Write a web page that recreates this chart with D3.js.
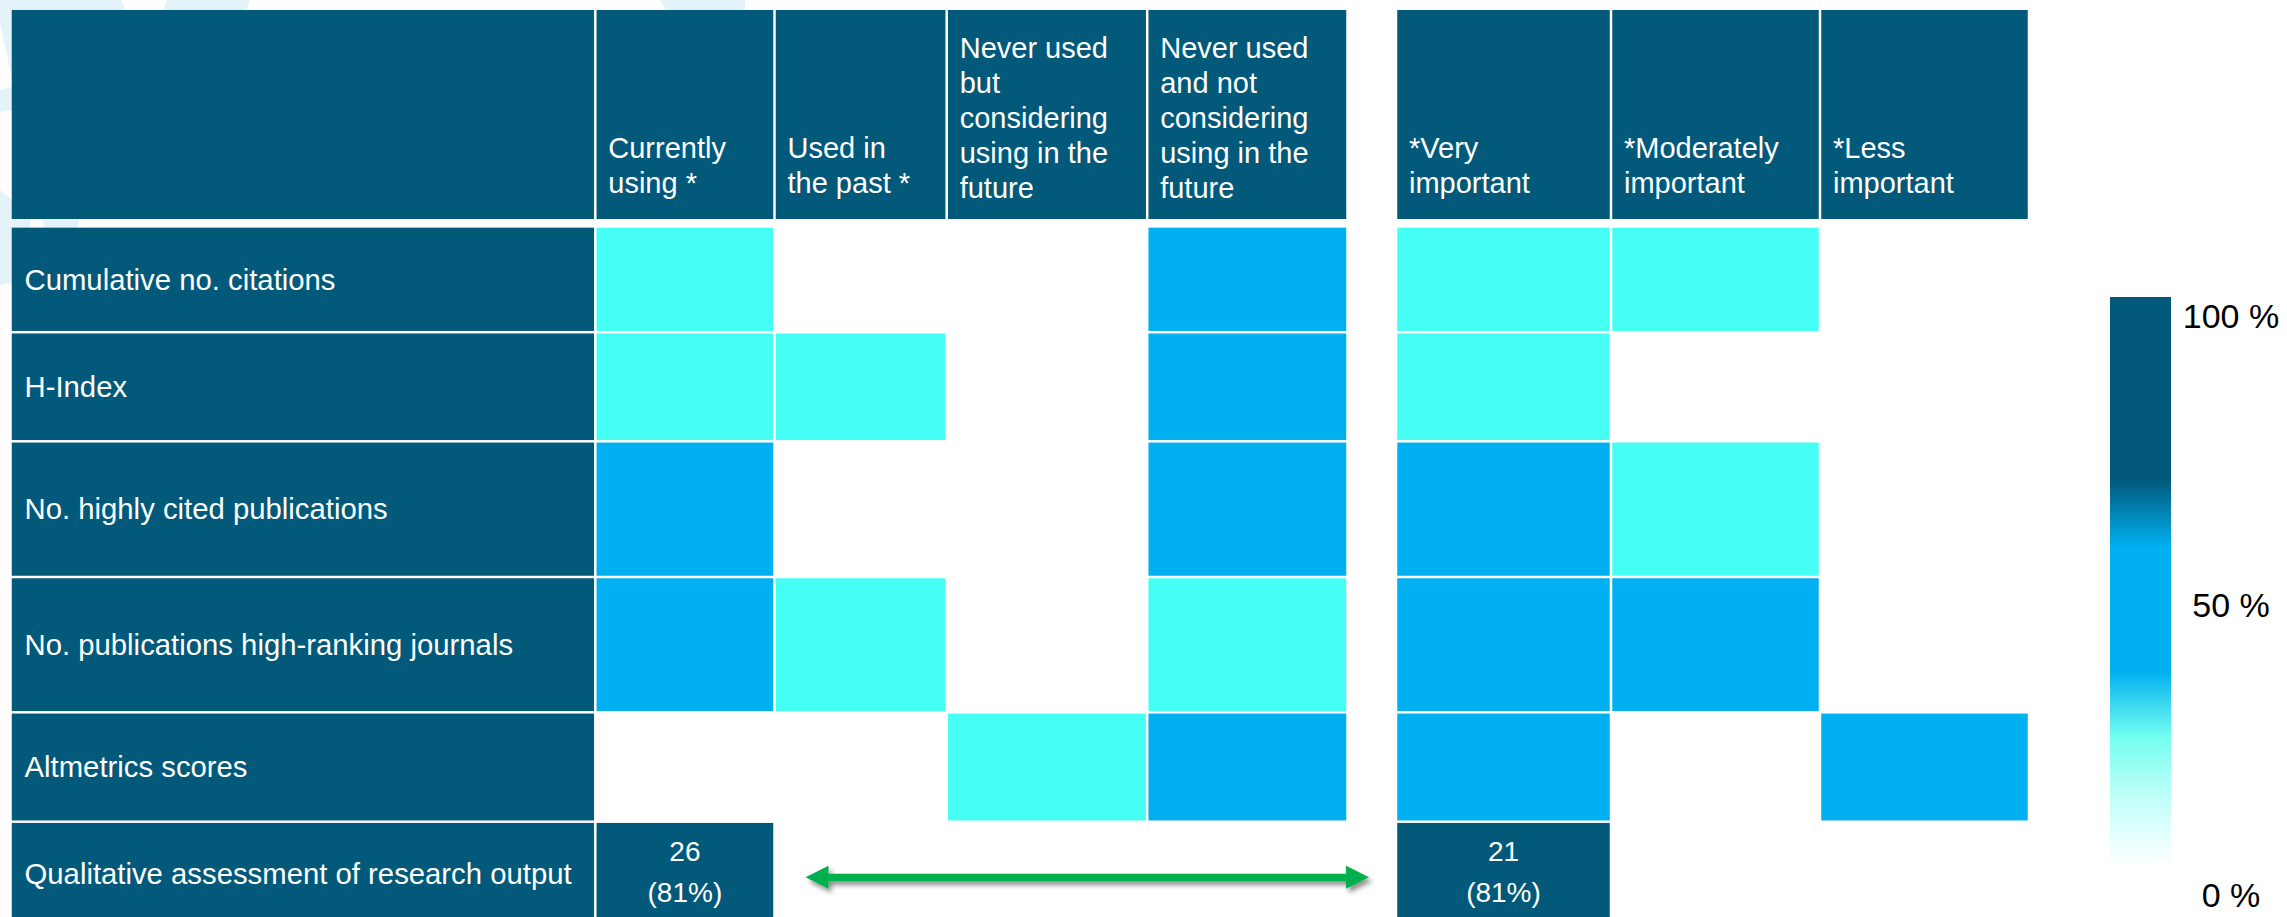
<!DOCTYPE html>
<html>
<head>
<meta charset="utf-8">
<script src="https://cdn.jsdelivr.net/npm/d3@7"></script>
<style>
  html, body { margin: 0; padding: 0; background: #ffffff; overflow: hidden; }
  svg { display: block; font-family: "Liberation Sans", Arial, Helvetica, sans-serif; }
</style>
</head>
<body>
<svg id="chart" width="2287" height="917"></svg>
<script>
// ---- Data -----------------------------------------------------------------
// Research metrics (table rows)
const metrics = [
  "Cumulative no. citations",
  "H-Index",
  "No. highly cited publications",
  "No. publications high-ranking journals",
  "Altmetrics scores",
  "Qualitative assessment of research output"
];

// Usage columns, header text split into its printed lines
const usageColumns = [
  ["Currently", "using *"],
  ["Used in", "the past *"],
  ["Never used", "but", "considering", "using in the", "future"],
  ["Never used", "and not", "considering", "using in the", "future"]
];

// Importance columns
const importanceColumns = [
  ["*Very", "important"],
  ["*Moderately", "important"],
  ["*Less", "important"]
];

// Share of respondents (%) per metric, usage columns
const usageValues = [
  [34, 9, 6, 50],
  [28, 22, 9, 41],
  [44, 6, 9, 41],
  [50, 22, 6, 22],
  [3, 3, 31, 63],
  [81, 6, 6, 6]
];

// Share of respondents (%) per metric, importance columns
const importanceValues = [
  [38, 35, 12],
  [35, 15, 12],
  [46, 31, 8],
  [50, 42, 4],
  [42, 12, 42],
  [81, 12, 4]
];

// Respondent counts printed in the qualitative-assessment row
const countedMetric = "Qualitative assessment of research output";
const usageCounts = [26, null, null, null];
const importanceCounts = [21, null, null];

// Colour legend ticks (%)
const legendTicks = [0, 50, 100];

// ---- Styling / layout -------------------------------------------------------
const DARK = "#02597a", BLUE = "#00b0f0", CYAN = "#45fff4", GREEN = "#00b050";
const GAP = 1.25;                       // half of the white gutter between cells

const labelEdges = [10.5, 595.3];
const usageEdges = [595.3, 774.5, 946.7, 1147.2, 1347.5];
const importanceEdges = [1396, 1611, 1820, 2029];
const headerEdges = [8.75, 220.25];
const rowEdges = [226.4, 332.2, 441.3, 577, 712.3, 821.7, 925];

const svg = d3.select("#chart");

// Background watermark shapes (very light blue)
const watermark = [
  [[0, 0], [121, 0], [127, 14], [60, 300], [0, 23]],
  [[0, 90], [30, 82], [30, 108], [0, 112]],
  [[0, 190], [30, 215], [30, 280], [0, 285]],
  [[167, 0], [250, 0], [245, 14], [162, 14]],
  [[660, 0], [745, 0], [745, 14], [668, 14]]
];
svg.append("g").selectAll("path").data(watermark).join("path")
  .attr("d", d => d3.line()(d) + "Z")
  .attr("fill", "#e4f2f9");

// Scales
const usageKeys = usageColumns.map(d => d.join(" "));
const importanceKeys = importanceColumns.map(d => d.join(" "));

const xUsage = d3.scaleOrdinal().domain(usageKeys).range(usageEdges.slice(0, -1));
const wUsage = d3.scaleOrdinal().domain(usageKeys).range(d3.pairs(usageEdges).map(([a, b]) => b - a));
const xImp = d3.scaleOrdinal().domain(importanceKeys).range(importanceEdges.slice(0, -1));
const wImp = d3.scaleOrdinal().domain(importanceKeys).range(d3.pairs(importanceEdges).map(([a, b]) => b - a));
const yRow = d3.scaleOrdinal().domain(metrics).range(rowEdges.slice(0, -1));
const hRow = d3.scaleOrdinal().domain(metrics).range(d3.pairs(rowEdges).map(([a, b]) => b - a));

const color = d3.scaleThreshold().domain([18, 40, 65]).range(["#ffffff", CYAN, BLUE, DARK]);

// ---- Header row -------------------------------------------------------------
const header = svg.append("g");
header.append("rect")
  .attr("x", labelEdges[0] + GAP).attr("y", headerEdges[0] + GAP)
  .attr("width", labelEdges[1] - labelEdges[0] - 2 * GAP)
  .attr("height", headerEdges[1] - headerEdges[0] - 2 * GAP)
  .attr("fill", DARK);

const headerCells = usageColumns.map((lines, i) => ({ lines, x: xUsage(usageKeys[i]), w: wUsage(usageKeys[i]) }))
  .concat(importanceColumns.map((lines, i) => ({ lines, x: xImp(importanceKeys[i]), w: wImp(importanceKeys[i]) })));

// header text sits near the bottom of each header cell
const lineH = 35;
const headerLastLine = headerEdges[1] - 37;
const hc = header.selectAll("g.hc").data(headerCells).join("g").attr("class", "hc");
hc.append("rect")
  .attr("x", d => d.x + GAP).attr("y", headerEdges[0] + GAP)
  .attr("width", d => d.w - 2 * GAP)
  .attr("height", headerEdges[1] - headerEdges[0] - 2 * GAP)
  .attr("fill", DARK);
hc.append("text")
  .attr("fill", "#ffffff").attr("font-size", 29)
  .selectAll("tspan").data(d => d.lines.map((t, k) => ({ t, k, n: d.lines.length, x: d.x }))).join("tspan")
  .attr("x", d => d.x + 13)
  .attr("y", d => headerLastLine - (d.n - 1 - d.k) * lineH + (d.n - 2) * 1.5)
  .attr("dy", "0.35em")
  .text(d => d.t);

// ---- Body -----------------------------------------------------------------
const body = svg.append("g");

// Row label cells
const rl = body.selectAll("g.rl").data(metrics).join("g").attr("class", "rl");
rl.append("rect")
  .attr("x", labelEdges[0] + GAP).attr("y", d => yRow(d) + GAP)
  .attr("width", labelEdges[1] - labelEdges[0] - 2 * GAP)
  .attr("height", d => hRow(d) - 2 * GAP)
  .attr("fill", DARK);
rl.append("text")
  .attr("x", labelEdges[0] + 14)
  .attr("y", d => yRow(d) + hRow(d) / 2)
  .attr("dy", "0.35em")
  .attr("fill", "#ffffff").attr("font-size", 29.3)
  .text(d => d);

// Heat cells
const cells = [];
metrics.forEach((m, r) => {
  usageKeys.forEach((k, c) => cells.push({
    metric: m, value: usageValues[r][c], x: xUsage(k), w: wUsage(k),
    count: m === countedMetric ? usageCounts[c] : null
  }));
  importanceKeys.forEach((k, c) => cells.push({
    metric: m, value: importanceValues[r][c], x: xImp(k), w: wImp(k),
    count: m === countedMetric ? importanceCounts[c] : null
  }));
});

const cg = body.selectAll("g.cell").data(cells).join("g").attr("class", "cell");
cg.append("rect")
  .attr("x", d => d.x + GAP).attr("y", d => yRow(d.metric) + GAP)
  .attr("width", d => d.w - 2 * GAP)
  .attr("height", d => hRow(d.metric) - 2 * GAP)
  .attr("fill", d => color(d.value));

const counted = cg.filter(d => d.count != null);
counted.append("text")
  .attr("x", d => d.x + d.w / 2)
  .attr("y", d => yRow(d.metric) + 29)
  .attr("dy", "0.35em")
  .attr("text-anchor", "middle").attr("fill", "#ffffff").attr("font-size", 28)
  .text(d => d.count);
counted.append("text")
  .attr("x", d => d.x + d.w / 2)
  .attr("y", d => yRow(d.metric) + 70)
  .attr("dy", "0.35em")
  .attr("text-anchor", "middle").attr("fill", "#ffffff").attr("font-size", 28)
  .text(d => `(${d.value}%)`);

// ---- Double-headed arrow between the two qualitative-assessment counts -----
const defs = svg.append("defs");
const shadow = defs.append("filter").attr("id", "arrowShadow")
  .attr("x", "-10%").attr("y", "-100%").attr("width", "120%").attr("height", "300%");
shadow.append("feDropShadow")
  .attr("dx", 3).attr("dy", 4).attr("stdDeviation", 2.5)
  .attr("flood-color", "#000").attr("flood-opacity", 0.45);

const ax0 = xUsage(usageKeys[1]) + 31;
const ax1 = xImp(importanceKeys[0]) - 27;
const ay = yRow(countedMetric) + hRow(countedMetric) / 2 + 4;
const headL = 23, headH = 11.5, shaftH = 3.7;
const arrowPts = [
  [ax0, ay], [ax0 + headL, ay - headH], [ax0 + headL, ay - shaftH],
  [ax1 - headL, ay - shaftH], [ax1 - headL, ay - headH], [ax1, ay],
  [ax1 - headL, ay + headH], [ax1 - headL, ay + shaftH],
  [ax0 + headL, ay + shaftH], [ax0 + headL, ay + headH]
];
svg.append("path")
  .attr("d", d3.line()(arrowPts) + "Z")
  .attr("fill", GREEN)
  .attr("filter", "url(#arrowShadow)");

// ---- Colour legend --------------------------------------------------------
const legendStops = [
  { v: 0, c: "#ffffff" },
  { v: 12, c: "#c2fffa" },
  { v: 22.7, c: "#75fff0" },
  { v: 34.4, c: BLUE },
  { v: 56.2, c: BLUE },
  { v: 68, c: DARK },
  { v: 100, c: DARK }
];
const grad = defs.append("linearGradient").attr("id", "legendGrad")
  .attr("x1", 0).attr("y1", 1).attr("x2", 0).attr("y2", 0);
grad.selectAll("stop").data(legendStops).join("stop")
  .attr("offset", d => d.v / 100)
  .attr("stop-color", d => d.c);

const yLegend = d3.scaleLinear().domain([0, 100]).range([867, 297]);
const yLegendLabel = d3.scaleLinear().domain([0, 100]).range([895, 316]);
svg.append("rect")
  .attr("x", 2110).attr("width", 61)
  .attr("y", yLegend(100)).attr("height", yLegend(0) - yLegend(100))
  .attr("fill", "url(#legendGrad)");
svg.append("g").selectAll("text").data(legendTicks).join("text")
  .attr("x", 2231)
  .attr("y", d => yLegendLabel(d))
  .attr("dy", "0.35em")
  .attr("text-anchor", "middle")
  .attr("font-size", 34).attr("fill", "#000000")
  .text(d => `${d} %`);
</script>
</body>
</html>
